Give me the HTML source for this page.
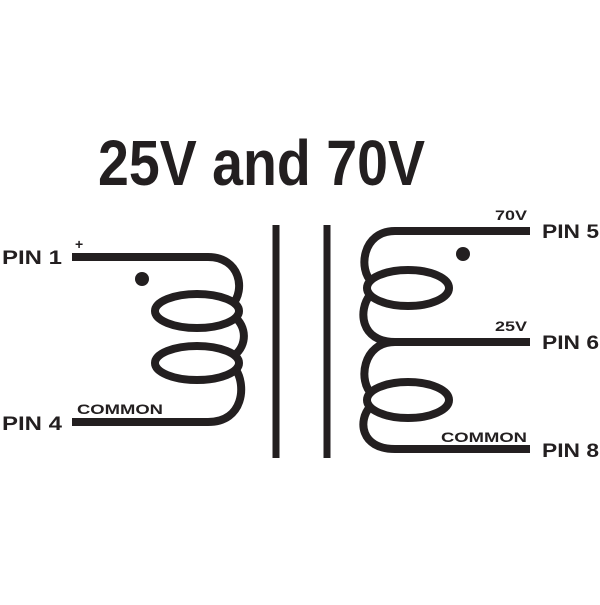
<!DOCTYPE html>
<html><head><style>html,body{margin:0;padding:0;background:#fff}</style></head>
<body>
<svg width="600" height="600" viewBox="0 0 600 600" xmlns="http://www.w3.org/2000/svg">
<rect width="600" height="600" fill="#fff"/>
<g font-family="Liberation Sans, Arial, sans-serif" font-weight="bold" fill="#231f20">
<text x="98" y="185" font-size="64" textLength="327" lengthAdjust="spacingAndGlyphs">25V and 70V</text>
<text x="2" y="264" font-size="19" textLength="60" lengthAdjust="spacingAndGlyphs">PIN 1</text>
<text x="2" y="430" font-size="19" textLength="60" lengthAdjust="spacingAndGlyphs">PIN 4</text>
<text x="542" y="238" font-size="19" textLength="57" lengthAdjust="spacingAndGlyphs">PIN 5</text>
<text x="542" y="349" font-size="19" textLength="57" lengthAdjust="spacingAndGlyphs">PIN 6</text>
<text x="542" y="457" font-size="19" textLength="57" lengthAdjust="spacingAndGlyphs">PIN 8</text>
<text x="75" y="249" font-size="14">+</text>
<text x="77" y="414" font-size="14" textLength="86" lengthAdjust="spacingAndGlyphs">COMMON</text>
<text x="495" y="220" font-size="14" textLength="32" lengthAdjust="spacingAndGlyphs">70V</text>
<text x="495" y="331" font-size="14" textLength="32" lengthAdjust="spacingAndGlyphs">25V</text>
<text x="441" y="442" font-size="14" textLength="86" lengthAdjust="spacingAndGlyphs">COMMON</text>
</g>
<g fill="none" stroke="#231f20" stroke-width="8">
<!-- core -->
<line x1="276" y1="225" x2="276" y2="458" stroke-width="7"/>
<line x1="327" y1="225" x2="327" y2="458" stroke-width="7"/>
<!-- primary -->
<path d="M72,257 H208 C240,257 246,290 232,305"/>
<ellipse cx="197" cy="311" rx="42" ry="17"/>
<path d="M236,318 C248,330 246,348 232,357"/>
<ellipse cx="197" cy="363" rx="42" ry="17"/>
<path d="M236,370 C246,385 244,422 208,422 H72"/>
<!-- secondary -->
<path d="M530,231 H395 C362,231 358,270 372,282"/>
<ellipse cx="408" cy="288" rx="41" ry="18"/>
<path d="M370,295 C358,310 360,342 395,342 H530"/>
<path d="M395,342 C362,342 358,382 372,394"/>
<ellipse cx="408" cy="400" rx="41" ry="18"/>
<path d="M370,407 C358,420 360,449 395,449 H530"/>
</g>
<circle cx="142" cy="279" r="7" fill="#231f20"/>
<circle cx="463" cy="254" r="7" fill="#231f20"/>
</svg>
</body></html>
